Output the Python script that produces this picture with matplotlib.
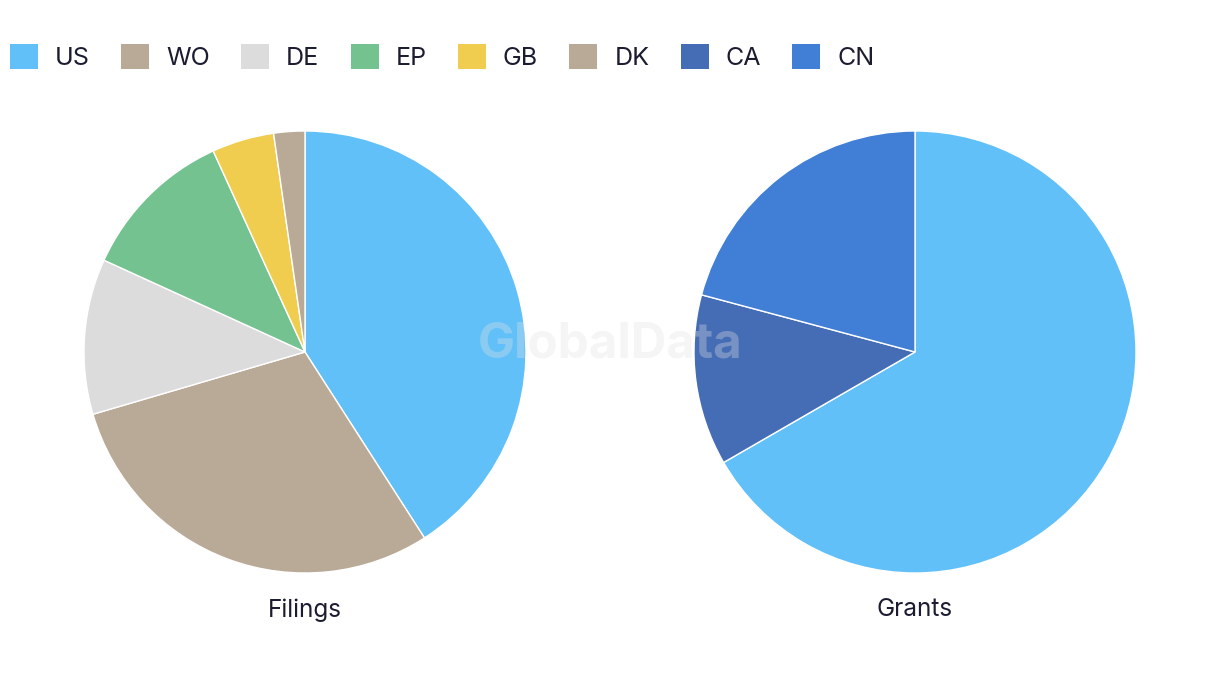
import matplotlib
matplotlib.use("Agg")
import matplotlib.pyplot as plt
from matplotlib.patches import Patch

# Data
legend_labels = ["US", "WO", "DE", "EP", "GB", "DK", "CA", "CN"]
legend_colors = ["#62c0f9", "#b8aa96", "#dcdcdc", "#73c290", "#f0cd4f", "#b8aa96", "#456db5", "#417fd6"]

filings_labels = ["US", "WO", "DE", "EP", "GB", "DK"]
filings_values = [18, 13, 5, 5, 2, 1]

grants_labels = ["US", "CA", "CN"]
grants_values = [16, 3, 5]

color_map = dict(zip(legend_labels, legend_colors))
text_color = "#1c1c30"
plt.rcParams['font.family'] = ['Inter', 'DejaVu Sans']

W, H = 1220, 686
fig = plt.figure(figsize=(W / 100, H / 100), dpi=100)
fig.patch.set_facecolor("white")

R = 221
def add_pie(cx, cy, labels, values, title):
    ax = fig.add_axes([(cx - R) / W, (H - cy - R) / H, 2 * R / W, 2 * R / H])
    ax.pie(values, colors=[color_map[l] for l in labels], startangle=90, counterclock=False,
           radius=1, wedgeprops=dict(edgecolor="white", linewidth=1))
    ax.set_xlim(-1, 1)
    ax.set_ylim(-1, 1)
    ax.set_aspect("equal")
    ax.axis("off")
    fig.text(cx / W, 1 - 610 / H, title, ha="center", va="center", fontsize=17.5, color=text_color)
    return ax

add_pie(305, 352, filings_labels, filings_values, "Filings")
add_pie(915, 352, grants_labels, grants_values, "Grants")

# watermark
fig.text(610 / W, 1 - 345 / H, "GlobalData", ha="center", va="center", fontsize=35.5,
         fontweight="bold", color="#e2e2e2", alpha=0.33, zorder=10)

handles = [Patch(facecolor=c, edgecolor="none") for c in legend_colors]
fig.legend(handles, legend_labels, loc="center left", bbox_to_anchor=(0 / W, 1 - 57 / H),
           ncol=8, frameon=False, fontsize=18, handlelength=1.12, handleheight=1.12,
           handletextpad=0.68, columnspacing=1.25, labelcolor=text_color, borderaxespad=0)

fig.savefig("out.png", dpi=100, facecolor="white")
